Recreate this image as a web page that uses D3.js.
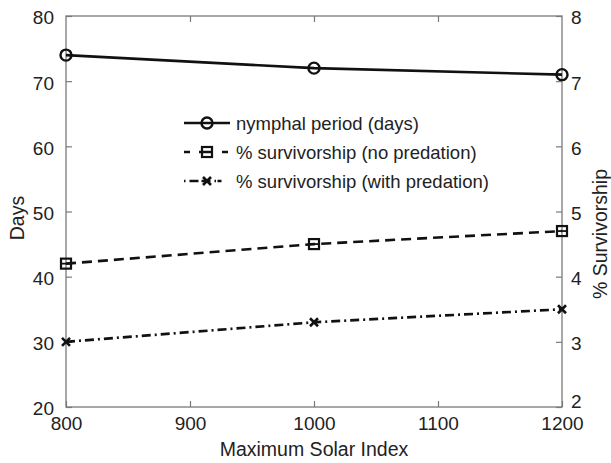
<!DOCTYPE html>
<html>
<head>
<meta charset="utf-8">
<script src="https://cdn.jsdelivr.net/npm/d3@7"></script>
<style>
  body { margin: 0; background: #fff; }
  text { font-family: "Liberation Sans", Arial, sans-serif; fill: #222; }
</style>
</head>
<body>
<div class="chart"></div>
<script>
// 데이터
const solarIndex = [800, 1000, 1200];
const nymphalDays = [74, 72, 71];
const survNoPred = [4.2, 4.5, 4.7];
const survWithPred = [3.0, 3.3, 3.5];
const xTicks = [800, 900, 1000, 1100, 1200];
const daysTicks = [20, 30, 40, 50, 60, 70, 80];
const survTicks = [2, 3, 4, 5, 6, 7, 8];
const legendLabels = ['nymphal period (days)', '% survivorship (no predation)', '% survivorship (with predation)'];

const W = 611, H = 463;
const M = {top: 16, right: 49, bottom: 56, left: 66};
const axisColor = '#7a7a7a';
const FONT = '"Liberation Sans", Arial, sans-serif';

const svg = d3.select('.chart').append('svg')
  .attr('width', W).attr('height', H);

const x = d3.scaleLinear([800, 1200], [M.left, W - M.right]);
const yL = d3.scaleLinear([20, 80], [H - M.bottom, M.top]);
const yR = d3.scaleLinear([2, 8], [H - M.bottom, M.top]);

// 축 상자
svg.append('rect')
  .attr('x', M.left).attr('y', M.top)
  .attr('width', W - M.left - M.right).attr('height', H - M.top - M.bottom)
  .attr('fill', 'none').attr('stroke', axisColor).attr('stroke-width', 1.3);

const styleAxis = g => {
  g.select('.domain').remove();
  g.selectAll('.tick line').attr('stroke', axisColor).attr('stroke-width', 1.2);
  g.selectAll('.tick text').attr('font-size', 19).attr('fill', '#222')
    .attr('font-family', FONT);
};

// x축 (아래, 위)
svg.append('g')
  .attr('transform', `translate(0, ${H - M.bottom})`)
  .call(d3.axisBottom(x).tickValues(xTicks).tickSize(-6).tickPadding(10).tickFormat(d3.format('d')))
  .call(styleAxis);
svg.append('g')
  .attr('transform', `translate(0, ${M.top})`)
  .call(d3.axisTop(x).tickValues(xTicks.slice(1, -1)).tickSize(-6).tickFormat(''))
  .call(styleAxis);

// 왼쪽 y축
svg.append('g')
  .attr('transform', `translate(${M.left}, 0)`)
  .call(d3.axisLeft(yL).tickValues(daysTicks).tickSize(-6).tickPadding(12))
  .call(styleAxis)
  .call(g => g.selectAll('.tick text').attr('dy', '0.42em'));

// 오른쪽 y축
svg.append('g')
  .attr('transform', `translate(${W - M.right}, 0)`)
  .call(d3.axisRight(yR).tickValues(survTicks).tickSize(-6).tickPadding(9).tickFormat(d3.format('d')))
  .call(styleAxis)
  .call(g => g.selectAll('.tick text').attr('dy', '0.42em'))
  .call(g => g.selectAll('.tick text').filter(d => d === 2).attr('dy', '0em'));

// 축 제목
svg.append('text')
  .attr('x', (M.left + W - M.right) / 2).attr('y', H - 7)
  .attr('text-anchor', 'middle').attr('font-size', 19.5)
  .text('Maximum Solar Index');
svg.append('text')
  .attr('transform', `translate(24, 218) rotate(-90)`)
  .attr('text-anchor', 'middle').attr('font-size', 19.5)
  .text('Days');
svg.append('text')
  .attr('transform', `translate(${W - 4}, 234) rotate(-90)`)
  .attr('text-anchor', 'middle').attr('font-size', 19.5)
  .text('% Survivorship');

// 시리즈
const series = [
  {vals: nymphalDays, y: yL, dash: null, marker: 'circle'},
  {vals: survNoPred, y: yR, dash: '10,6', marker: 'square'},
  {vals: survWithPred, y: yR, dash: '9,4,2,4', marker: 'cross'}
];

const drawMarker = (g, type, cx, cy) => {
  if (type === 'circle') {
    g.append('circle').attr('cx', cx).attr('cy', cy).attr('r', 5.5)
      .attr('fill', 'none').attr('stroke', '#111').attr('stroke-width', 2.4);
  } else if (type === 'square') {
    g.append('rect').attr('x', cx - 5).attr('y', cy - 5).attr('width', 10).attr('height', 10)
      .attr('fill', 'none').attr('stroke', '#111').attr('stroke-width', 2.2);
    g.append('line').attr('x1', cx - 5).attr('x2', cx + 5).attr('y1', cy).attr('y2', cy)
      .attr('stroke', '#111').attr('stroke-width', 1.8);
  } else {
    g.append('path').attr('d', `M${cx - 4},${cy - 4}L${cx + 4},${cy + 4}M${cx - 4},${cy + 4}L${cx + 4},${cy - 4}`)
      .attr('stroke', '#111').attr('stroke-width', 2.6);
  }
};

const line = d3.line();
series.forEach(s => {
  const pts = solarIndex.map((d, i) => [x(d), s.y(s.vals[i])]);
  svg.append('path')
    .attr('d', line(pts))
    .attr('fill', 'none').attr('stroke', '#111').attr('stroke-width', 2.6)
    .attr('stroke-dasharray', s.dash);
  const mg = svg.append('g');
  pts.forEach(p => drawMarker(mg, s.marker, p[0], p[1]));
});

// 범례
const lg = svg.append('g');
const legendDash = [null, '6,9,14,9,6', '1.5,4,9,3,9,4,1.5'];
legendLabels.forEach((lab, i) => {
  const ly = 123 + i * 29;
  lg.append('line')
    .attr('x1', 184).attr('x2', 230).attr('y1', ly).attr('y2', ly)
    .attr('stroke', '#111').attr('stroke-width', 2.6)
    .attr('stroke-dasharray', legendDash[i]);
  drawMarker(lg, series[i].marker, 207, ly);
  lg.append('text')
    .attr('x', 236).attr('y', ly).attr('dy', '0.36em')
    .attr('font-size', 18.5)
    .text(lab);
});
</script>
</body>
</html>
